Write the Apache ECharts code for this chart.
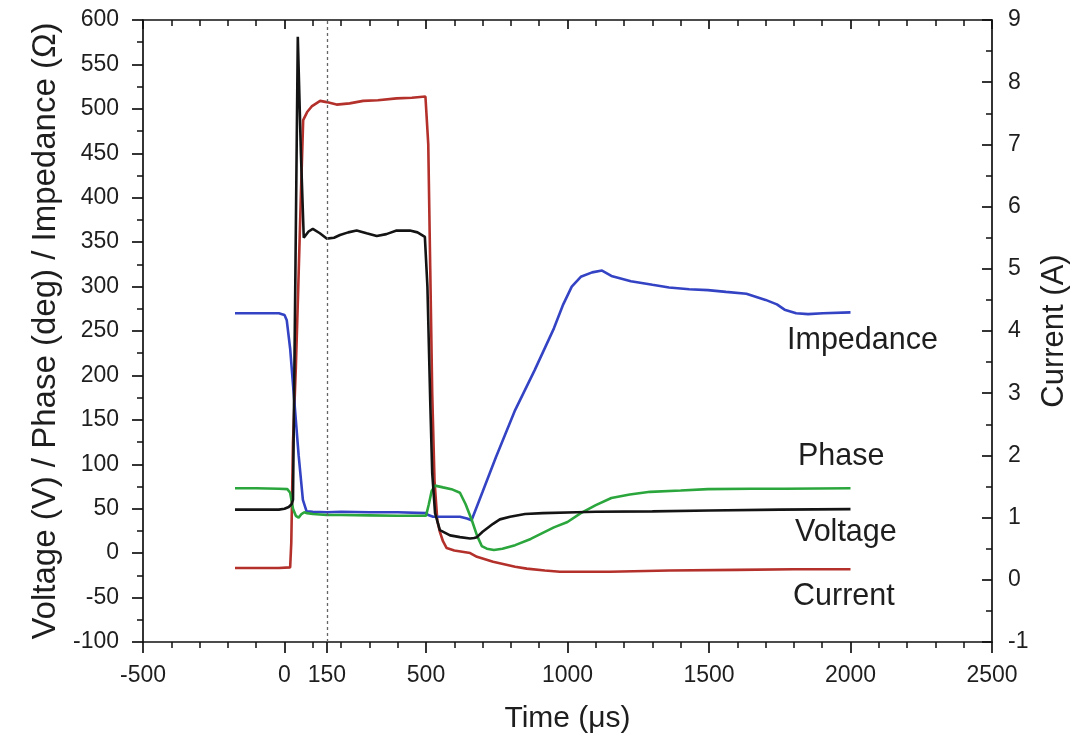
<!DOCTYPE html>
<html>
<head>
<meta charset="utf-8">
<script src="https://cdn.jsdelivr.net/npm/echarts@6/dist/echarts.min.js"></script>
<style>
html,body{margin:0;padding:0;background:#fff;}
#chart{width:1089px;height:741px;}
</style>
</head>
<body>
<div id="chart"></div>
<script>
// ---- data (time in µs) ----
var xTickLabels = [-500, 0, 150, 500, 1000, 1500, 2000, 2500];

var voltageT = [-175, -100, -20, 0, 15, 25, 30, 38, 47, 58, 68, 85, 100, 125, 149, 175, 196, 225, 255, 290, 326, 360, 396, 420, 443, 470, 496, 505, 515, 522, 532, 549, 585, 620, 656, 670, 680, 700, 737, 761, 797, 850, 913, 1033, 1100, 1300, 1500, 1750, 2000];
var voltageV = [49, 49, 49, 50, 52, 55, 60, 300, 581, 450, 355, 362, 365, 360, 354, 355, 358, 361, 363, 360, 357, 359, 363, 363, 363, 361, 356, 300, 170, 90, 45, 26, 20, 18, 16.5, 17, 18, 24, 33, 38, 41, 44, 45, 46, 46.5, 47, 48, 49, 49.5];

var impedanceT = [-175, -100, -20, 0, 8, 20, 35, 50, 65, 78, 100, 150, 200, 300, 400, 500, 508, 525, 560, 620, 645, 661, 700, 747, 815, 884, 952, 985, 1015, 1047, 1087, 1122, 1155, 1224, 1300, 1359, 1430, 1496, 1560, 1632, 1700, 1740, 1767, 1808, 1850, 1903, 2000];
var impedanceV = [270, 270, 270, 268, 262, 230, 170, 110, 60, 47, 46.5, 46, 46.5, 46, 46, 45, 43, 41, 41, 41, 39, 37, 69, 108, 161, 206, 253, 280, 300, 311, 316, 318, 312, 306, 302, 299, 297, 296, 294, 292, 285, 280, 274, 270, 269, 270, 271];

var phaseT = [-175, -100, -20, 10, 20, 30, 40, 50, 60, 70, 80, 100, 150, 200, 300, 400, 500, 510, 520, 532, 560, 590, 620, 640, 662, 680, 697, 715, 740, 770, 815, 870, 952, 1000, 1047, 1100, 1155, 1220, 1292, 1400, 1496, 1650, 1767, 2000];
var phaseV = [73, 73, 72.5, 72, 68, 50, 42, 40, 44, 46, 45, 44, 43, 43, 42.5, 42, 42, 55, 70, 76, 74, 72, 68, 55, 37, 20, 8, 5, 3.5, 5, 9, 16, 29, 35, 45, 54, 62, 66, 69, 70.5, 72, 72.5, 72.5, 73];

var currentT = [-175, -100, -20, 20, 24, 27, 30, 40, 48, 58, 66, 80, 96, 126, 149, 184, 230, 278, 330, 396, 450, 498, 508, 515, 522, 530, 540, 549, 560, 573, 600, 656, 680, 737, 815, 856, 920, 973, 1019, 1150, 1359, 1600, 1800, 2000];
var currentV = [0.19, 0.19, 0.19, 0.2, 0.6, 1.4, 2.2, 3.4, 4.6, 6.2, 7.39, 7.52, 7.61, 7.70, 7.68, 7.64, 7.66, 7.70, 7.71, 7.74, 7.75, 7.77, 7.0, 5.0, 3.0, 1.6, 0.95, 0.77, 0.62, 0.51, 0.47, 0.43, 0.37, 0.29, 0.21, 0.18, 0.15, 0.13, 0.13, 0.13, 0.15, 0.16, 0.17, 0.17];

var seriesLabels = ['Impedance', 'Phase', 'Voltage', 'Current'];
var markerTime = 150;

function zip(t, v) { return t.map(function (x, i) { return [x, v[i]]; }); }
function plain(v) { return String(v); }

var FONT = '"Liberation Sans", Arial, sans-serif';
var AX = '#111';
var TXT = '#1e1e1e';

var chart = echarts.init(document.getElementById('chart'), null, {renderer: 'canvas'});

function lineSeries(name, data, color, yIdx, extra) {
  var s = {
    name: name, type: 'line', data: data, xAxisIndex: 0, yAxisIndex: yIdx,
    showSymbol: false, symbol: 'none', smooth: false, animation: false,
    lineStyle: {color: color, width: 2.6}, z: 3
  };
  if (extra) for (var k in extra) s[k] = extra[k];
  return s;
}

var option = {
  animation: false,
  backgroundColor: '#fff',
  grid: {left: 143, right: 97, top: 20, bottom: 99, containLabel: false},
  xAxis: [
    {
      type: 'value', position: 'bottom', min: -500, max: 2500, interval: 500,
      axisLine: {show: true, onZero: false, lineStyle: {color: AX, width: 1.7}},
      axisTick: {show: true, length: 11, customValues: xTickLabels, lineStyle: {color: AX, width: 1.7}},
      minorTick: {show: true, splitNumber: 5, length: 6, lineStyle: {color: AX, width: 1.5}},
      axisLabel: {customValues: xTickLabels, formatter: plain, fontSize: 23, color: TXT, fontFamily: FONT, margin: 22},
      splitLine: {show: false}, minorSplitLine: {show: false},
      name: 'Time (μs)', nameLocation: 'middle', nameGap: 62,
      nameTextStyle: {fontSize: 30, color: TXT, fontFamily: FONT}
    },
    {
      type: 'value', position: 'top', min: -500, max: 2500, interval: 500,
      axisLine: {show: true, onZero: false, lineStyle: {color: AX, width: 1.7}},
      axisTick: {show: true, inside: true, length: 9, lineStyle: {color: AX, width: 1.7}},
      minorTick: {show: true, splitNumber: 5, length: 6, lineStyle: {color: AX, width: 1.5}},
      axisLabel: {show: false},
      splitLine: {show: false}
    }
  ],
  yAxis: [
    {
      type: 'value', position: 'left', min: -100, max: 600, interval: 50,
      axisLine: {show: true, onZero: false, lineStyle: {color: AX, width: 1.7}},
      axisTick: {show: true, length: 11, lineStyle: {color: AX, width: 1.7}},
      minorTick: {show: true, splitNumber: 2, length: 6, lineStyle: {color: AX, width: 1.5}},
      axisLabel: {formatter: plain, fontSize: 23, color: TXT, fontFamily: FONT, margin: 24},
      splitLine: {show: false},
      name: 'Voltage (V) / Phase (deg) / Impedance (Ω)', nameLocation: 'middle', nameRotate: 90, nameGap: 80,
      nameTextStyle: {fontSize: 33, color: TXT, fontFamily: FONT}
    },
    {
      type: 'value', position: 'right', min: -1, max: 9, interval: 1,
      axisLine: {show: true, onZero: false, lineStyle: {color: AX, width: 1.7}},
      axisTick: {show: true, inside: true, length: 10, lineStyle: {color: AX, width: 1.7}},
      minorTick: {show: true, splitNumber: 2, length: 6, lineStyle: {color: AX, width: 1.5}},
      axisLabel: {formatter: plain, fontSize: 23, color: TXT, fontFamily: FONT, margin: 16},
      splitLine: {show: false},
      name: 'Current (A)', nameLocation: 'middle', nameRotate: 90, nameGap: 44,
      nameTextStyle: {fontSize: 31, color: TXT, fontFamily: FONT}
    }
  ],
  series: [
    lineSeries('Current', zip(currentT, currentV), '#b3302b', 1),
    lineSeries('Impedance', zip(impedanceT, impedanceV), '#3343c4', 0),
    lineSeries('Phase', zip(phaseT, phaseV), '#2aa63c', 0),
    lineSeries('Voltage', zip(voltageT, voltageV), '#141414', 0, {
      markLine: {
        silent: true, symbol: ['none', 'none'], label: {show: false},
        lineStyle: {color: '#666', type: [3, 3], width: 1.3},
        data: [{xAxis: markerTime}]
      }
    })
  ],
  graphic: [
    {type: 'text', x: 787, y: 341, style: {text: seriesLabels[0], fontSize: 30.5, fontFamily: FONT, fill: TXT, verticalAlign: 'middle', align: 'left'}},
    {type: 'text', x: 798, y: 457, style: {text: seriesLabels[1], fontSize: 30.5, fontFamily: FONT, fill: TXT, verticalAlign: 'middle', align: 'left'}},
    {type: 'text', x: 795, y: 533, style: {text: seriesLabels[2], fontSize: 30.5, fontFamily: FONT, fill: TXT, verticalAlign: 'middle', align: 'left'}},
    {type: 'text', x: 793, y: 597, style: {text: seriesLabels[3], fontSize: 30.5, fontFamily: FONT, fill: TXT, verticalAlign: 'middle', align: 'left'}}
  ]
};
chart.setOption(option);
</script>
</body>
</html>
